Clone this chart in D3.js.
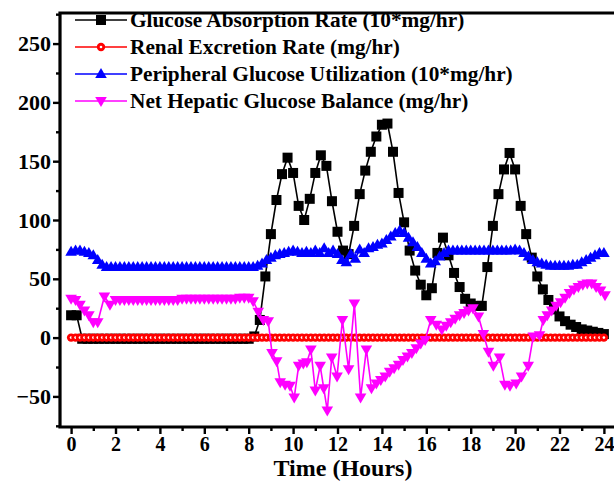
<!DOCTYPE html>
<html><head><meta charset="utf-8">
<script src="https://cdn.jsdelivr.net/npm/d3@7"></script>
<style>body{margin:0;background:#fff}svg{display:block}</style>
</head><body><svg id="c" width="614" height="482"></svg>
<script>
const seriesNames = ["Glucose Absorption Rate (10*mg/hr)","Renal Excretion Rate (mg/hr)","Peripheral Glucose Utilization (10*mg/hr)","Net Hepatic Glucose Balance (mg/hr)"];
const seriesColors = ["#000000","#ff0000","#0000ff","#ff00ff"];
const xTicks = [0,2,4,6,8,10,12,14,16,18,20,22,24];
const xMinorTicks = [1,3,5,7,9,11,13,15,17,19,21,23];
const yTicks = [-50,0,50,100,150,200,250];
const yMinorTicks = [-75,-25,25,75,125,175,225,275];
const xTitle = "Time (Hours)";

// Glucose absorption, every 0.25 h from 0 to 24
const absorptionTime = d3.range(0, 24.001, 0.25);
const absorptionRate = [19,19,-1,-1,-1,-1,-1,-1,-1,-1,-1,-1,-1,-1,-1,-1,-1,-1,-1,-1,-1,-1,-1,-1,-1,-1,-1,-1,-1,-1,-1,-1,-1,
 1,15,52,88,117,139,153,140,112,100,118,140,155,146,116,90,74,71,95,122,142,158,171,181,182,158,123,98,74,57,45,36,42,72,85,
 70,55,43,33,29,27,27,60,95,122,143,157,143,112,88,68,52,41,32,24,18,14,11,9,7,6,5,4,3];

// Renal excretion and peripheral utilization, every 0.2 h
const fineTime = d3.range(0, 24.001, 0.2);
const renalRate = [0,0,0,0,0,0,0,0,0,0,0,0,0,0,0,0,0,0,0,0,0,0,0,0,0,0,0,0,0,0,0,0,0,0,0,0,0,0,0,0,
 0,0,0,0,0,0,0,0,0,0,0,0,0,0,0,0,0,0,0,0,0,0,0,0,0,0,0,0,0,0,0,0,0,0,0,0,0,0,0,0,
 0,0,0,0,0,0,0,0,0,0,0,0,0,0,0,0,0,0,0,0,0,0,0,0,0,0,0,0,0,0,0,0,0,0,0,0,0,0,0,0,0];
const peripheralRate = [73,74,74,73,72,70,66,62,60,
 60,60,60,60,60,60,60,60,60,60,60,60,60,60,60,60,60,60,60,60,60,60,60,60,60,60,60,60,60,60,60,60,60,
 61,63,66,68,70,71,72,73,74,73,72,73,72,74,72,76,72,74,71,66,64,71,67,75,72,76,77,79,80,83,86,89,91,89,85,81,77,72,67,63,65,69,72,
 74,74,74,74,74,74,74,74,74,74,74,74,74,74,74,75,74,72,69,66,64,63,62,61,61,61,61,61,62,62,64,66,68,70,72,72];

// Net hepatic glucose balance
const hepaticTime = [0,0.2,0.4,0.6,0.8,1.0,1.2,1.5,1.75,2.0,
 2.2,2.4,2.6,2.8,3.0,3.2,3.4,3.6,3.8,4.0,4.2,4.4,4.6,4.8,5.0,5.2,5.4,5.6,5.8,6.0,6.2,6.4,6.6,6.8,7.0,7.2,7.4,7.6,7.8,8.0,
 8.2,8.43,8.66,8.88,9.05,9.26,9.42,9.64,9.86,10.05,10.25,10.46,10.62,10.8,11.0,11.22,11.38,11.54,11.74,11.98,12.22,12.5,12.76,13.04,13.3,13.53,
 13.75,13.95,14.15,14.35,14.55,14.75,14.95,15.15,15.35,15.55,15.75,15.95,
 16.2,16.45,16.7,16.9,17.1,17.3,17.5,17.7,17.9,18.1,18.35,18.57,18.8,19.02,19.3,19.54,19.77,20.05,20.29,20.59,20.82,21.1,21.27,
 21.45,21.65,21.85,22.05,22.25,22.45,22.65,22.85,23.05,23.25,23.45,23.65,23.85,24.05];
const hepaticRate = [33,32,28,23,19,13,13,35,28,32,
 32,32,32,32,32,32,32,32,32,32,32,32,32,32,33,33,33,33,33,33,33,33,33,33,33,33,33,34,34,34,
 31,22,15,14,-13,-20,-38,-40,-41,-51,-24,-22,-21,-10,-45,-24,-43,-62,-17,-33,15,-27,29,-51,-10,-43,
 -39,-36,-33,-29,-26,-23,-19,-16,-13,-9,-5,-2,
 15,11,7,10,13,16,19,21,23,25,18,3,-12,-24,-17,-40,-41,-39,-33,-24,1,2,15,
 19,23,27,30,34,38,41,43,45,46,46,43,40,36];

const svg = d3.select("#c");
const x = d3.scaleLinear().domain([-0.5, 24.5]).range([60, 615]);
const y = d3.scaleLinear().domain([-76, 276]).range([427, 13]);
const font = "'Liberation Serif','Times New Roman',serif";

const series = [
  {t: absorptionTime, v: absorptionRate, sym: "square"},
  {t: fineTime, v: renalRate, sym: "circle"},
  {t: fineTime, v: peripheralRate, sym: "up"},
  {t: hepaticTime, v: hepaticRate, sym: "down"}
];

function drawSym(g, sym, color) {
  if (sym === "square") {
    g.append("rect").attr("x",-5).attr("y",-5).attr("width",10).attr("height",10).attr("fill",color);
  } else if (sym === "circle") {
    g.append("circle").attr("r",4.2).attr("fill",color);
    g.append("circle").attr("r",1.3).attr("fill","#fff");
  } else if (sym === "up") {
    g.append("path").attr("d","M0,-6L5.8,4L-5.8,4Z").attr("fill",color);
  } else {
    g.append("path").attr("d","M0,6L5.8,-4L-5.8,-4Z").attr("fill",color);
  }
}

const line = d3.line().x(d => x(d[0])).y(d => y(d[1]));
series.forEach((s, i) => {
  const pts = s.t.map((t, j) => [t, s.v[j]]);
  const g = svg.append("g");
  g.append("path").attr("d", line(pts)).attr("fill","none").attr("stroke",seriesColors[i]).attr("stroke-width",1.6);
  pts.forEach(p => {
    const mg = g.append("g").attr("transform",`translate(${x(p[0])},${y(p[1])})`);
    drawSym(mg, s.sym, seriesColors[i]);
  });
});

// axes
const axStyle = g => {
  g.selectAll(".domain").remove();
  g.selectAll(".tick line").attr("stroke","#000").attr("stroke-width",2.4);
  g.selectAll("text").attr("font-family",font).attr("font-weight","bold").attr("fill","#000");
};
svg.append("g").attr("transform","translate(60,0)")
  .call(d3.axisLeft(y).tickValues(yTicks).tickSize(7).tickPadding(2).tickFormat(d3.format("d")))
  .call(axStyle).call(g => g.selectAll("text").attr("font-size",22));
svg.append("g").attr("transform","translate(60,0)")
  .call(d3.axisLeft(y).tickValues(yMinorTicks).tickSize(4).tickFormat(""))
  .call(axStyle);
svg.append("g").attr("transform","translate(0,427)")
  .call(d3.axisBottom(x).tickValues(xTicks).tickSize(7).tickPadding(3).tickFormat(d3.format("d")))
  .call(axStyle).call(g => g.selectAll("text").attr("font-size",20));
svg.append("g").attr("transform","translate(0,427)")
  .call(d3.axisBottom(x).tickValues(xMinorTicks).tickSize(4).tickFormat(""))
  .call(axStyle);

// frame
svg.append("path").attr("d","M615,13L60,13L60,427L615,427").attr("fill","none").attr("stroke","#000").attr("stroke-width",3.2);

svg.append("text").attr("x",343).attr("y",476).attr("text-anchor","middle")
  .attr("font-family",font).attr("font-weight","bold").attr("font-size",24).text(xTitle);

// legend
seriesNames.forEach((name, i) => {
  const yy = 20 + i * 27;
  const g = svg.append("g");
  g.append("line").attr("x1",75).attr("x2",127).attr("y1",yy).attr("y2",yy).attr("stroke",seriesColors[i]).attr("stroke-width",1.6);
  const mg = g.append("g").attr("transform",`translate(101,${yy})`);
  drawSym(mg, series[i].sym, seriesColors[i]);
  g.append("text").attr("x",130).attr("y",yy+7).attr("font-family",font).attr("font-weight","bold")
    .attr("font-size",21.3).attr("fill","#000").text(name);
});
</script></body></html>
